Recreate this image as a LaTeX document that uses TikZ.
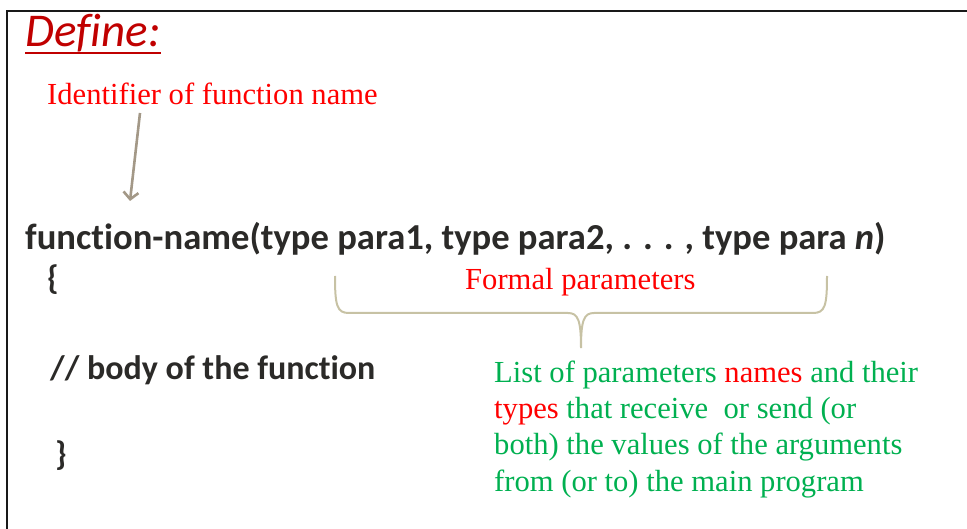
\documentclass[tikz,border=0pt]{standalone}
\usepackage{fontspec}
\setmainfont{Liberation Serif}
\newfontfamily\calibri[Ligatures=NoCommon]{Carlito}
\usepackage{tikz}
\usetikzlibrary{arrows.meta,calc}

\definecolor{defred}{HTML}{C00000}
\definecolor{txtred}{HTML}{FF0000}
\definecolor{txtgreen}{HTML}{00B050}
\definecolor{codegray}{HTML}{2B2A28}
\definecolor{arrowtan}{HTML}{A39887}
\definecolor{bracetan}{HTML}{C7C2A4}

\tikzset{
  codetxt/.style={anchor=base west, inner sep=0, text=codegray,
    font=\calibri\bfseries\fontsize{34}{40}\selectfont},
  serifred/.style={anchor=base west, inner sep=0, text=txtred,
    font=\fontsize{30.6}{36}\selectfont},
  seriflist/.style={anchor=base west, inner sep=0, text=txtgreen, align=left,
    font=\fontsize{30.6}{36.2}\selectfont}
}

\begin{document}
\begin{tikzpicture}[x=1pt,y=-1pt]
		\useasboundingbox (0,0) rectangle (967,529);

		% Frame
		\draw[line width=2.2, black!90] (7,529) -- (7,11) -- (967,11);

		% Title
		\node[anchor=base west, inner sep=0, text=defred,
		      font=\calibri\itshape\fontsize{47}{52}\selectfont] (define) at (25,47) {Define:};
		\draw[defred, line width=2.6] ($(define.base west)+(0,6)$) -- ($(define.base east)+(0,6)$);

		% Identifier label and arrow
		\node[serifred] (ident) at (47,105) {Identifier of function name};
		\coordinate (arrtail) at (140,113);
		\coordinate (arrhead) at (130,201);
		\draw[arrowtan, line width=2.6, -{Straight Barb[length=7pt,width=15pt]}] (arrtail) -- (arrhead);

		% Function definition
		\node[codetxt, font=\calibri\bfseries\fontsize{36.6}{42}\selectfont] (call) at (25,250)
		  {function-name(type para1, type para2, . . . , type para \textit{n})};
		\node[codetxt] (open) at (47,290) {\{};
		\node[codetxt] (body) at (50,380) {// body of the function};
		\node[codetxt] (close) at (55,465) {\}};

		% Brace under parameters
		\coordinate (brl) at (335,276);
		\coordinate (brr) at (827,276);
		\coordinate (brtip) at (581,348);
		\draw[bracetan, line width=2]
		  (brl) .. controls (335,306) and (337,313) .. (349,313) -- (568,313)
		  .. controls (578,313) and (581,320) .. (brtip)
		  .. controls (581,320) and (584,313) .. (594,313) -- (813,313)
		  .. controls (825,313) and (827,306) .. (brr);
		\node[serifred] (formal) at (465,290) {Formal parameters};

		% Description (anchored on its last line)
		\node[seriflist] (desc) at (494,491) {List of parameters \textcolor{txtred}{names} and their\\
		  \textcolor{txtred}{types} that receive\ \ or send (or\\
		  both) the values of the arguments\\
		  from (or to) the main program};

	\end{tikzpicture}
\end{document}
